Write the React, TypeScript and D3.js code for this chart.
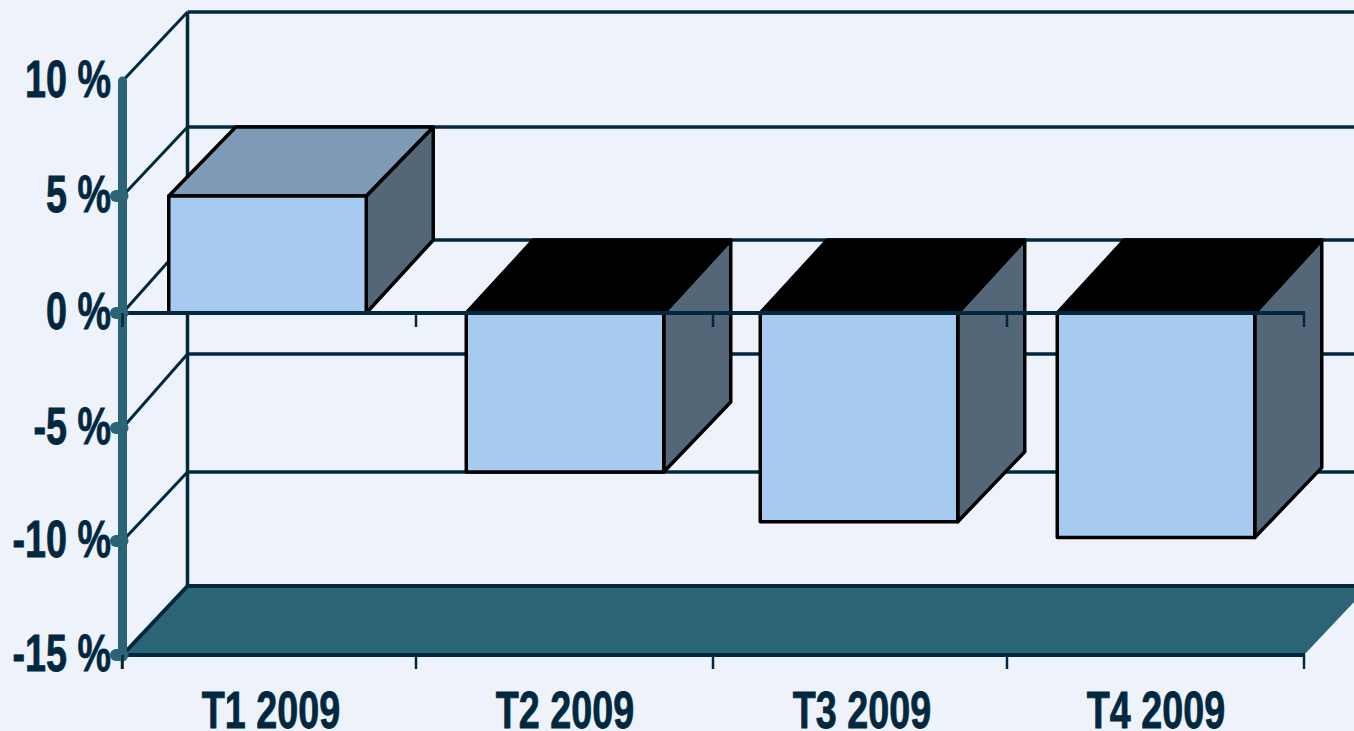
import React from "react";
import * as d3 from "d3";

const categories = ["T1 2009", "T2 2009", "T3 2009", "T4 2009"];
const values = [5, -6.95, -9.15, -9.85];
const yTicks = [-15, -10, -5, 0, 5, 10];
const tickLabels = ["-15 %", "-10 %", "-5 %", "0 %", "5 %", "10 %"];

const W = 1354, H = 731;
const BG = "#EEF3FB", INK = "#02283F", TEAL = "#2A6475", FACE = "#A6CAF0", SIDE = "#546779", TOP = "#7F9AB6";

// front plane and back wall of the 3D box
const yFront = d3.scaleLinear().domain(yTicks).range([655, 541, 428, 313, 196, 81]);
const yWall = d3.scaleLinear().domain(yTicks).range([586, 472, 354, 240, 127, 12]);
const idx = categories.map((_, i) => i);
const xEdge = d3.scaleLinear().domain([0, 1, 2, 3, 4]).range([122, 416, 713, 1007, 1304]);
const xBar = d3.scaleLinear().domain(idx).range([267.5, 565, 859, 1156]);
const xLabel = d3.scaleLinear().domain(idx).range([271, 565, 862, 1156]);
const DX = 65;
const BAR_DX = 67;
const barW = 197.5;
const pts = (a: number[][]) => a.map((p) => p.join(",")).join(" ");
const xTicks = [0, 1, 2, 3, 4].map((i) => xEdge(i));
const TEXT_SX = 0.74;

export default function App() {
  const y0 = yFront(0);
  const x0 = 122.5, x1 = 1304;
  return (
    <svg width={W} height={H} viewBox={`0 0 ${W} ${H}`} style={{ position: "fixed", left: 0, top: 0, background: BG, display: "block" }}>
      <rect width={W} height={H} fill={BG} />
      {/* floor */}
      <polygon points={pts([[x0, yFront(-15)], [x0 + DX, yWall(-15)], [x1 + DX, yWall(-15)], [x1, yFront(-15)]])} fill={TEAL} />
      {/* back wall */}
      <line x1={x0 + DX} x2={x0 + DX} y1={yWall(10)} y2={yWall(-15)} stroke={INK} strokeWidth={3.5} />
      {yTicks.map((t) => (
        <g key={t}>
          <line x1={x0 + DX} x2={W + 40} y1={yWall(t)} y2={yWall(t)} stroke={INK} strokeWidth={t === -15 ? 4 : 3.5} />
          <line x1={x0} x2={x0 + DX} y1={yFront(t)} y2={yWall(t)} stroke={INK} strokeWidth={t === -15 ? 4 : 3} />
        </g>
      ))}
      {/* bars */}
      {categories.map((c, i) => {
        const v = values[i];
        const l = xBar(i) - barW / 2;
        const r = l + barW;
        const yv = yFront(v);
        const top = v >= 0 ? yv : y0;
        const bottom = v >= 0 ? y0 : yv;
        const dyTop = v >= 0 ? yFront(5) - yWall(5) : yFront(0) - yWall(0);
        const dyBottom = v >= 0 ? yFront(0) - yWall(0) : dyTop - 3;
        return (
          <g key={c} stroke="#000" strokeWidth={3.5} strokeLinejoin="round">
            <polygon points={pts([[r, top], [r + BAR_DX, top - dyTop], [r + BAR_DX, bottom - dyBottom], [r, bottom]])} fill={SIDE} />
            <polygon points={pts([[l, top], [l + BAR_DX, top - dyTop], [r + BAR_DX, top - dyTop], [r, top]])} fill={v >= 0 ? TOP : "#000"} />
            <rect x={l} y={top} width={barW} height={bottom - top} fill={FACE} />
          </g>
        );
      })}
      {/* category axes */}
      {[-15, 0].map((t) => (
        <g key={t} stroke={INK}>
          <line x1={x0} x2={x1 + 1} y1={yFront(t)} y2={yFront(t)} strokeWidth={4} />
          {xTicks.map((tx) => (
            <line key={tx} x1={tx} x2={tx} y1={yFront(t)} y2={yFront(t) + 14} strokeWidth={2.5} />
          ))}
        </g>
      ))}
      {/* value axis */}
      <line x1={x0} x2={x0} y1={yFront(10)} y2={yFront(-15) + 2} stroke={TEAL} strokeWidth={9} strokeLinecap="round" />
      {yTicks.filter((t) => t !== 10).map((t) => (
        <line key={t} x1={116} x2={x0} y1={yFront(t)} y2={yFront(t)} stroke={TEAL} strokeWidth={12} strokeLinecap="round" />
      ))}
      <line x1={x0} x2={x0} y1={yFront(0)} y2={yFront(0) + 14} stroke={INK} strokeWidth={2.5} />
      <line x1={x0} x2={x0} y1={yFront(-15)} y2={yFront(-15) + 14} stroke={INK} strokeWidth={2.5} />
      {/* labels */}
      <g fontFamily="'Liberation Sans',sans-serif" fontWeight={700} fontSize={51} fill={INK} stroke={INK} strokeWidth={0.8}>
        {yTicks.map((t, i) => (
          <text key={t} transform={`translate(111,${yFront(t) + 16}) scale(${TEXT_SX},1)`} textAnchor="end">{tickLabels[i]}</text>
        ))}
        {categories.map((c, i) => (
          <text key={c} transform={`translate(${xLabel(i)},728) scale(${TEXT_SX},1)`} textAnchor="middle">{c}</text>
        ))}
      </g>
    </svg>
  );
}
